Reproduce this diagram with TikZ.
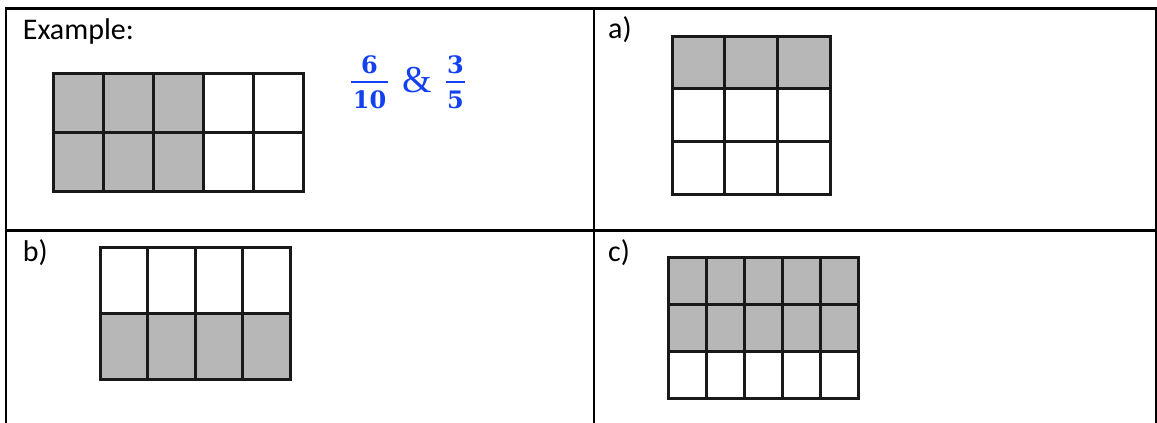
\documentclass[tikz,border=0pt]{standalone}
\usepackage{fontspec}
\setmainfont{Carlito}
\newfontfamily\fracfont{DejaVu Serif}
\newfontfamily\ampfont{Liberation Serif}
\definecolor{cellgray}{RGB}{183,183,183}
\definecolor{fracblue}{RGB}{20,65,240}
% #1 x0, #2 y0, #3 x1, #4 y1, #5 inner vertical lines, #6 inner horizontal lines
\newcommand{\cellgrid}[6]{%
  \draw[gridline] (#1,#2) rectangle (#3,#4);
  \foreach \k in {1,...,#5}{\draw[gridline] ({#1+(#3-#1)*\k/(#5+1)},#2) -- ({#1+(#3-#1)*\k/(#5+1)},#4);}
  \foreach \k in {1,...,#6}{\draw[gridline] (#1,{#2+(#4-#2)*\k/(#6+1)}) -- (#3,{#2+(#4-#2)*\k/(#6+1)});}
}
\begin{document}
\begin{tikzpicture}[x=1pt,y=-1pt,
  tableline/.style={line width=2.6pt,black},
  gridline/.style={line width=3pt,black!90},
  label/.style={anchor=base west,inner sep=0pt,font=\fontsize{30}{30}\selectfont},
  fracdigit/.style={anchor=base,inner sep=0pt,text=fracblue,font=\fracfont\bfseries\fontsize{24}{24}\selectfont},
  fracbar/.style={line width=2pt,fracblue},
  amp/.style={anchor=base,inner sep=0pt,text=fracblue,font=\ampfont\fontsize{38}{38}\selectfont}]
\useasboundingbox (0,0) rectangle (1157,423);
\fill[white] (0,0) rectangle (1157,423);
% table
\draw[tableline] (6,423) -- (6,8.5) -- (1156,8.5) -- (1156,423);
\draw[tableline] (6,230.5) -- (1156,230.5);
\draw[tableline] (594,8.5) -- (594,423);
% labels
\node[label] (lex) at (22.7,39.3) {Example:};
\node[label] (la) at (608,38.5) {a)};
\node[label] (lb) at (22.7,261) {b)};
\node[label] (lc) at (608,261) {c)};
% example fractions
\node[fracdigit] (n1) at (369.5,73) {6};
\draw[fracbar] (351,82) -- (388,82);
\node[fracdigit] (d1) at (369.5,108) {10};
\node[amp] (and) at (417,92) {\&};
\node[fracdigit] (n2) at (455.5,73) {3};
\draw[fracbar] (446,82) -- (465,82);
\node[fracdigit] (d2) at (455.5,108) {5};
% shaded parts
\fill[cellgray] (53,73) rectangle (203,191);
\fill[cellgray] (672,36) rectangle (830,88.7);
\fill[cellgray] (100,313) rectangle (290,379);
\fill[cellgray] (668,257) rectangle (858,351);
% grids
\cellgrid{53}{73}{303}{191}{4}{1}
\cellgrid{672}{36}{830}{194}{2}{2}
\cellgrid{100}{247}{290}{379}{3}{1}
\cellgrid{668}{257}{858}{398}{4}{2}
\end{tikzpicture}
\end{document}
